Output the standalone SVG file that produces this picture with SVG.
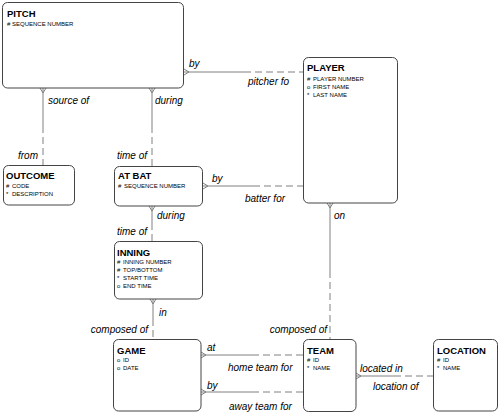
<svg xmlns="http://www.w3.org/2000/svg" xmlns:xlink="http://www.w3.org/1999/xlink" width="500" height="416" viewBox="0 0 500 416">
<style>
.box{fill:#fff;stroke:#444;stroke-width:1}
.t{font-family:"Liberation Sans",Arial,sans-serif;font-weight:bold;font-size:9.5px;fill:#000}
.a{font-family:"Liberation Sans",Arial,sans-serif;font-size:6px;fill:#000}
.l{font-family:"Liberation Sans",Arial,sans-serif;font-style:italic;font-size:10px;fill:#000}
.s{stroke:#808080;stroke-width:1;fill:none}
.d{stroke:#808080;stroke-width:1;fill:none;stroke-dasharray:7,4}
</style>
<defs>
<path id="cf" d="M-3,0 L0,5 L3,0" fill="none" stroke="#808080" stroke-width="1"/>
</defs>
<rect width="500" height="416" fill="#fff"/>
<g id="connectors">
<!-- PITCH - PLAYER -->
<line class="s" x1="184" y1="72" x2="244" y2="72"/>
<line class="d" x1="244" y1="72" x2="303" y2="72"/>
<use xlink:href="#cf" transform="translate(184,72) rotate(-90)"/>
<text class="l" x="189" y="67">by</text>
<text class="l" x="248" y="85">pitcher fo</text>
<!-- PITCH - OUTCOME -->
<line class="s" x1="43" y1="88" x2="43" y2="126"/>
<line class="d" x1="43" y1="126" x2="43" y2="165"/>
<use xlink:href="#cf" transform="translate(43,88)"/>
<text class="l" x="48" y="104">source of</text>
<text class="l" x="38" y="159" text-anchor="end">from</text>
<!-- PITCH - AT BAT -->
<line class="s" x1="152" y1="88" x2="152" y2="126"/>
<line class="d" x1="152" y1="126" x2="152" y2="166"/>
<use xlink:href="#cf" transform="translate(152,88)"/>
<text class="l" x="155" y="104">during</text>
<text class="l" x="147" y="159" text-anchor="end">time of</text>
<!-- AT BAT - PLAYER -->
<line class="s" x1="203" y1="186" x2="253" y2="186"/>
<line class="d" x1="253" y1="186" x2="303" y2="186"/>
<use xlink:href="#cf" transform="translate(203,186) rotate(-90)"/>
<text class="l" x="212" y="182">by</text>
<text class="l" x="245" y="202">batter for</text>
<!-- AT BAT - INNING -->
<line class="s" x1="152" y1="206" x2="152" y2="223"/>
<line class="d" x1="152" y1="223" x2="152" y2="241"/>
<use xlink:href="#cf" transform="translate(152,206)"/>
<text class="l" x="157" y="219">during</text>
<text class="l" x="147" y="235" text-anchor="end">time of</text>
<!-- INNING - GAME -->
<line class="s" x1="153" y1="299" x2="153" y2="319"/>
<line class="d" x1="153" y1="319" x2="153" y2="339"/>
<use xlink:href="#cf" transform="translate(153,299)"/>
<text class="l" x="159" y="316">in</text>
<text class="l" x="148" y="333" text-anchor="end">composed of</text>
<!-- PLAYER - TEAM -->
<line class="s" x1="330" y1="203" x2="330" y2="271"/>
<line class="d" x1="330" y1="271" x2="330" y2="339"/>
<use xlink:href="#cf" transform="translate(330,203)"/>
<text class="l" x="334" y="219">on</text>
<text class="l" x="327" y="333" text-anchor="end">composed of</text>
<!-- GAME - TEAM (at) -->
<line class="s" x1="201" y1="355" x2="252" y2="355"/>
<line class="d" x1="252" y1="355" x2="304" y2="355"/>
<use xlink:href="#cf" transform="translate(201,355) rotate(-90)"/>
<text class="l" x="207" y="351">at</text>
<text class="l" x="228" y="371">home team for</text>
<!-- GAME - TEAM (by) -->
<line class="s" x1="201" y1="392" x2="252" y2="392"/>
<line class="d" x1="252" y1="392" x2="304" y2="392"/>
<use xlink:href="#cf" transform="translate(201,392) rotate(-90)"/>
<text class="l" x="207" y="389">by</text>
<text class="l" x="229" y="410">away team for</text>
<!-- TEAM - LOCATION -->
<line class="s" x1="356" y1="376" x2="394" y2="376"/>
<line class="d" x1="394" y1="376" x2="433" y2="376"/>
<use xlink:href="#cf" transform="translate(356,376) rotate(-90)"/>
<text class="l" x="360" y="372">located in</text>
<text class="l" x="373" y="390">location of</text>
</g>
<g id="pitch">
<rect class="box" x="2.5" y="2.5" width="181" height="85.5" rx="5"/>
<text class="t" x="7" y="17">PITCH</text>
<text class="a" x="7" y="26">#</text><text class="a" x="12" y="26">SEQUENCE NUMBER</text>
</g>
<g id="player">
<rect class="box" x="303.5" y="57.5" width="94" height="145.5" rx="5"/>
<text class="t" x="307" y="71">PLAYER</text>
<text class="a" x="307" y="81">#</text><text class="a" x="313" y="81">PLAYER NUMBER</text>
<text class="a" x="307" y="89">o</text><text class="a" x="313" y="89">FIRST NAME</text>
<text class="a" x="307" y="97">*</text><text class="a" x="313" y="97">LAST NAME</text>
</g>
<g id="outcome">
<rect class="box" x="3.5" y="165.5" width="71" height="39.5" rx="5"/>
<text class="t" x="6" y="179">OUTCOME</text>
<text class="a" x="6" y="188">#</text><text class="a" x="12" y="188">CODE</text>
<text class="a" x="6" y="196">*</text><text class="a" x="12" y="196">DESCRIPTION</text>
</g>
<g id="atbat">
<rect class="box" x="114.5" y="166.5" width="88" height="39.5" rx="5"/>
<text class="t" x="118" y="179">AT BAT</text>
<text class="a" x="118" y="188">#</text><text class="a" x="124" y="188">SEQUENCE NUMBER</text>
</g>
<g id="inning">
<rect class="box" x="114.5" y="241.5" width="88" height="57.5" rx="5"/>
<text class="t" x="117" y="256">INNING</text>
<text class="a" x="117" y="264">#</text><text class="a" x="123" y="264">INNING NUMBER</text>
<text class="a" x="117" y="272">#</text><text class="a" x="123" y="272">TOP/BOTTOM</text>
<text class="a" x="117" y="280">*</text><text class="a" x="123" y="280">START TIME</text>
<text class="a" x="117" y="288">o</text><text class="a" x="123" y="288">END TIME</text>
</g>
<g id="game">
<rect class="box" x="113.5" y="339.5" width="87.5" height="71.5" rx="5"/>
<text class="t" x="117" y="354">GAME</text>
<text class="a" x="117" y="362">o</text><text class="a" x="123" y="362">ID</text>
<text class="a" x="117" y="370">o</text><text class="a" x="123" y="370">DATE</text>
</g>
<g id="team">
<rect class="box" x="303.5" y="339.5" width="52.5" height="72" rx="5"/>
<text class="t" x="307" y="354">TEAM</text>
<text class="a" x="307" y="362">#</text><text class="a" x="313" y="362">ID</text>
<text class="a" x="307" y="370">*</text><text class="a" x="313" y="370">NAME</text>
</g>
<g id="location">
<rect class="box" x="433.5" y="339.5" width="64" height="71.5" rx="5"/>
<text class="t" x="437" y="354">LOCATION</text>
<text class="a" x="437" y="362">#</text><text class="a" x="443" y="362">ID</text>
<text class="a" x="437" y="370">*</text><text class="a" x="443" y="370">NAME</text>
</g>
</svg>
